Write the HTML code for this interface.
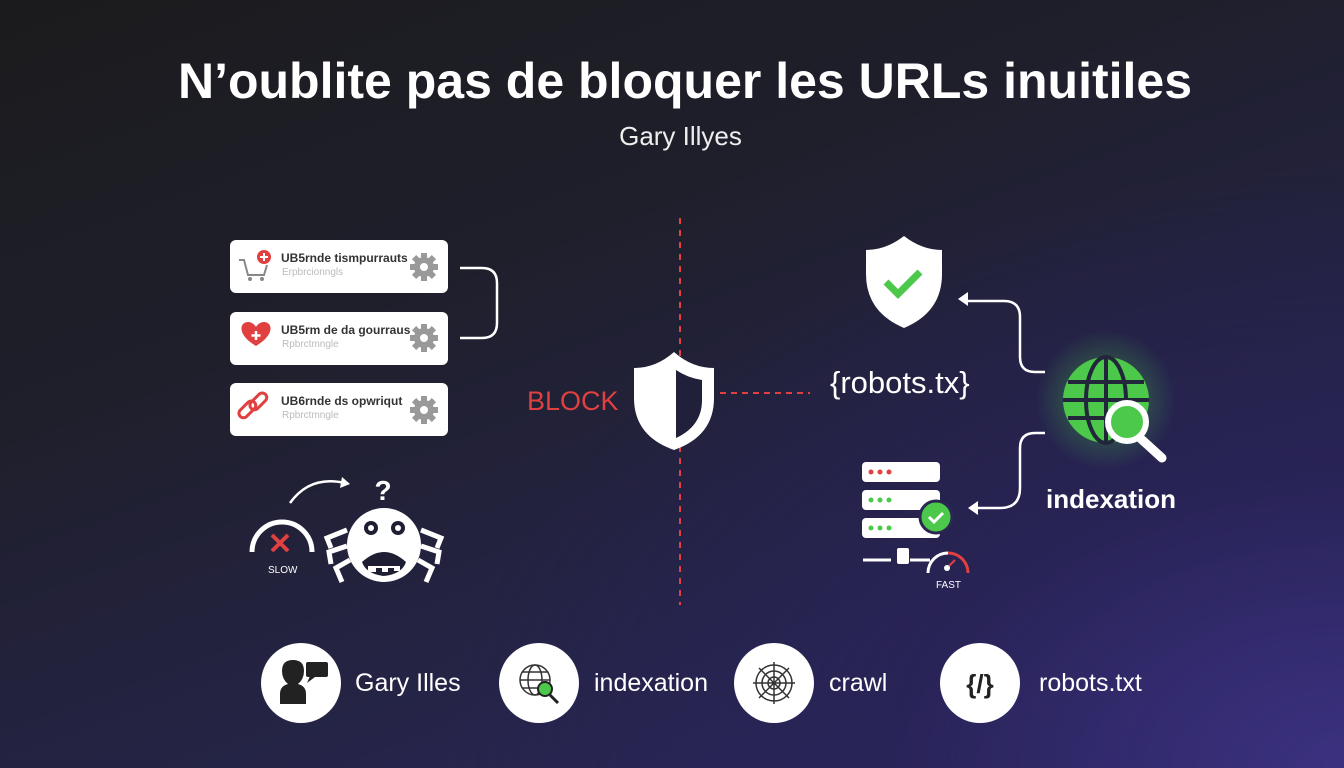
<!DOCTYPE html>
<html><head><meta charset="utf-8"><style>
html,body{margin:0;padding:0}
body{width:1344px;height:768px;overflow:hidden;position:relative;font-family:"Liberation Sans",sans-serif;
background:radial-gradient(ellipse 900px 600px at 1344px 768px,#3b3180 0%,rgba(40,34,90,0.6) 50%,rgba(30,30,50,0) 100%),linear-gradient(160deg,#1b1b1d 0%,#1f1f2c 35%,#252448 70%,#2e2862 100%);}
.t{position:absolute;color:#fff;white-space:nowrap}
.card{position:absolute;left:230px;width:218px;height:53px;background:#fff;border-radius:6px}
.card .a{position:absolute;left:51px;top:11px;font-size:12px;color:#333;font-weight:bold}
.card .b{position:absolute;left:52px;top:27px;font-size:10px;color:#bbb}
</style></head><body>
<div class="t" style="left:0;width:1370px;text-align:center;top:52px;font-size:50px;font-weight:bold">N’oublite pas de bloquer les URLs inuitiles</div>
<div class="t" style="left:0;width:1361px;text-align:center;top:121px;font-size:26px;color:#eee">Gary Illyes</div>

<div class="card" style="top:240px"><div class="a">UB5rnde tismpurrauts</div><div class="b">Erpbrcionngls</div></div>
<div class="card" style="top:312px"><div class="a">UB5rm de da gourraus</div><div class="b">Rpbrctmngle</div></div>
<div class="card" style="top:383px"><div class="a">UB6rnde ds opwriqut</div><div class="b">Rpbrctmngle</div></div>

<div class="t" style="left:527px;top:386px;font-size:27px;color:#e0403f">BLOCK</div>
<div class="t" style="left:830px;top:365px;font-size:31px">{robots.tx}</div>
<div class="t" style="left:1046px;top:484px;font-size:26px;font-weight:bold">indexation</div>
<div class="t" style="left:268px;top:565px;font-size:10px">SLOW</div>
<div class="t" style="left:936px;top:580px;font-size:10px">FAST</div>

<div class="t" style="left:355px;top:669px;font-size:25px">Gary Illes</div>
<div class="t" style="left:594px;top:669px;font-size:25px">indexation</div>
<div class="t" style="left:829px;top:669px;font-size:25px">crawl</div>
<div class="t" style="left:1039px;top:669px;font-size:25px">robots.txt</div>

<svg width="1344" height="768" style="position:absolute;left:0;top:0">
<defs><radialGradient id="g"><stop offset="0" stop-color="#4cd04a" stop-opacity=".5"/><stop offset="1" stop-color="#4cd04a" stop-opacity="0"/></radialGradient></defs>
<g fill="none" stroke="#888" stroke-width="2"><path d="M239 260h5l4 15h16l3-10"/></g>
<circle cx="250" cy="279" r="2" fill="#888"/><circle cx="262" cy="279" r="2" fill="#888"/>
<circle cx="264" cy="257" r="7" fill="#e0403f"/><path d="M264 253v8M260 257h8" stroke="#fff" stroke-width="2"/>
<path d="M256 346c-20-12-16-24-8-24 4 0 7 3 8 5 1-2 4-5 8-5 8 0 12 12-8 24z" fill="#e0403f"/><path d="M256 331v9M251.5 335.5h9" stroke="#fff" stroke-width="2.5"/>
<g fill="none" stroke="#e0403f" stroke-width="3"><rect x="237" y="405" width="20" height="9" rx="4.5" transform="rotate(-45 247 409)"/><rect x="248" y="397" width="20" height="9" rx="4.5" transform="rotate(-45 258 401)"/></g>
<g fill="#999">
<g transform="translate(424,267)"><circle r="10"/><g id="tt"><rect x="-3" y="-14" width="6" height="28"/><rect x="-14" y="-3" width="28" height="6"/><rect x="-3" y="-14" width="6" height="28" transform="rotate(45)"/><rect x="-3" y="-14" width="6" height="28" transform="rotate(-45)"/></g><circle r="4" fill="#fff"/></g>
<g transform="translate(424,338)"><circle r="10"/><use href="#tt"/><circle r="4" fill="#fff"/></g>
<g transform="translate(424,410)"><circle r="10"/><use href="#tt"/><circle r="4" fill="#fff"/></g>
</g>
<path d="M460 268h22q15 0 15 15v40q0 15-15 15h-22" fill="none" stroke="#fff" stroke-width="2.5"/>
<path d="M290 503q20-28 55-20" fill="none" stroke="#fff" stroke-width="2.5"/><path d="M342 477l8 7-10 4z" fill="#fff"/>
<text x="383" y="500" fill="#fff" font-size="28" font-weight="bold" text-anchor="middle" font-family="Liberation Sans">?</text>
<path d="M252 552a30 30 0 0 1 60 0" fill="none" stroke="#fff" stroke-width="5"/>
<path d="M272 535l16 16M288 535l-16 16" stroke="#e0403f" stroke-width="4"/>
<circle cx="384" cy="545" r="37" fill="#fff"/>
<circle cx="371" cy="528" r="7" fill="#1f1f33"/><circle cx="398" cy="528" r="7" fill="#1f1f33"/>
<circle cx="371" cy="528" r="3" fill="#fff"/><circle cx="398" cy="528" r="3" fill="#fff"/>
<path d="M362 562q22-20 44 0q-4 12-22 14q-18-2-22-14z" fill="#1f1f33"/>
<path d="M368 566h32v5h-6v-3h-6v4h-6v-4h-6v4h-8z" fill="#fff"/>
<g stroke="#fff" stroke-width="5" fill="none"><path d="M347 530l-20 8 4 10M347 546l-18 6 2 12M350 560l-14 8 6 14M421 530l20 8-4 10M421 546l18 6-2 12M418 560l14 8-6 14"/></g>
<path d="M680 218v387" stroke="#e0403f" stroke-width="2" stroke-dasharray="6 6"/>
<path d="M720 393h90" stroke="#e0403f" stroke-width="2" stroke-dasharray="6 5"/>
<path d="M674 352q-18 16-40 16v30q0 38 40 52q40-14 40-52v-30q-22 0-40-16z" fill="#fff"/>
<path d="M676 370q12 8 26 10v20q0 26-26 38z" fill="#20203a"/>
<path d="M904 236q-18 14-38 14v24q0 38 38 54q38-16 38-54v-24q-20 0-38-14z" fill="#fff"/>
<path d="M886 282l12 12 22-22" fill="none" stroke="#4cc94a" stroke-width="7"/>
<path d="M1045 372h-10q-15 0-15-15v-40q0-16-16-16h-38" fill="none" stroke="#fff" stroke-width="2.5"/><path d="M958 299l10-7v14z" fill="#fff"/>
<path d="M1045 433h-10q-15 0-15 15v40q0 20-20 20h-27" fill="none" stroke="#fff" stroke-width="2.5"/><path d="M968 508l10-7v14z" fill="#fff"/>
<circle cx="1106" cy="400" r="70" fill="url(#g)"/>
<circle cx="1106" cy="400" r="43" fill="#4cc94a"/>
<g stroke="#22263a" stroke-width="4" fill="none"><path d="M1063 400h86M1068 382h76M1068 418h76M1106 357v86"/><ellipse cx="1106" cy="400" rx="20" ry="43"/></g>
<path d="M1140 438l22 20" stroke="#fff" stroke-width="9" stroke-linecap="round"/>
<circle cx="1127" cy="422" r="19" fill="#4cc94a" stroke="#fff" stroke-width="6"/>
<g fill="#fff"><rect x="862" y="462" width="78" height="20" rx="4"/><rect x="862" y="490" width="78" height="20" rx="4"/><rect x="862" y="518" width="78" height="20" rx="4"/></g>
<g fill="#e0403f"><circle cx="871" cy="472" r="2.5"/><circle cx="880" cy="472" r="2.5"/><circle cx="889" cy="472" r="2.5"/></g>
<g fill="#4cc94a"><circle cx="871" cy="500" r="2.5"/><circle cx="880" cy="500" r="2.5"/><circle cx="889" cy="500" r="2.5"/><circle cx="871" cy="528" r="2.5"/><circle cx="880" cy="528" r="2.5"/><circle cx="889" cy="528" r="2.5"/></g>
<circle cx="936" cy="517" r="16" fill="#4cc94a" stroke="#2a2750" stroke-width="3"/><path d="M929 517l5 5 9-9" stroke="#fff" stroke-width="3" fill="none"/>
<path d="M863 560h28M910 560h20" stroke="#fff" stroke-width="3"/><rect x="897" y="548" width="12" height="16" rx="2" fill="#fff"/>
<path d="M928 573a20 20 0 0 1 20-20" fill="none" stroke="#fff" stroke-width="3"/><path d="M948 553a20 20 0 0 1 20 20" fill="none" stroke="#e0403f" stroke-width="3"/>
<path d="M947 568l8-8" stroke="#e0403f" stroke-width="2"/><circle cx="947" cy="568" r="3" fill="#fff"/>
<g fill="#fff"><circle cx="301" cy="683" r="40"/><circle cx="539" cy="683" r="40"/><circle cx="774" cy="683" r="40"/><circle cx="980" cy="683" r="40"/></g>
<path d="M280 704v-10q0-8 8-10q-6-5-6-13q0-11 11-11q11 0 11 11q0 8-6 13q8 2 8 10v10z" fill="#222"/>
<rect x="306" y="662" width="22" height="15" rx="2" fill="#222"/><path d="M310 676l-3 7 8-6z" fill="#222"/>
<g fill="none" stroke="#333" stroke-width="1.5"><circle cx="535" cy="680" r="15"/><ellipse cx="535" cy="680" rx="7" ry="15"/><path d="M520 680h30M522 672h26M522 688h26"/></g>
<path d="M550 695l8 8" stroke="#222" stroke-width="3"/><circle cx="545" cy="689" r="7" fill="#4cc94a" stroke="#222" stroke-width="2"/>
<g fill="none" stroke="#333" stroke-width="1.5"><path d="M774 662v42M753 683h42M759 668l30 30M789 668l-30 30"/><circle cx="774" cy="683" r="6"/><circle cx="774" cy="683" r="12"/><circle cx="774" cy="683" r="18"/></g>
<text x="980" y="693" font-size="26" font-weight="bold" fill="#222" text-anchor="middle" font-family="Liberation Sans">{/}</text>
</svg>
</body></html>
